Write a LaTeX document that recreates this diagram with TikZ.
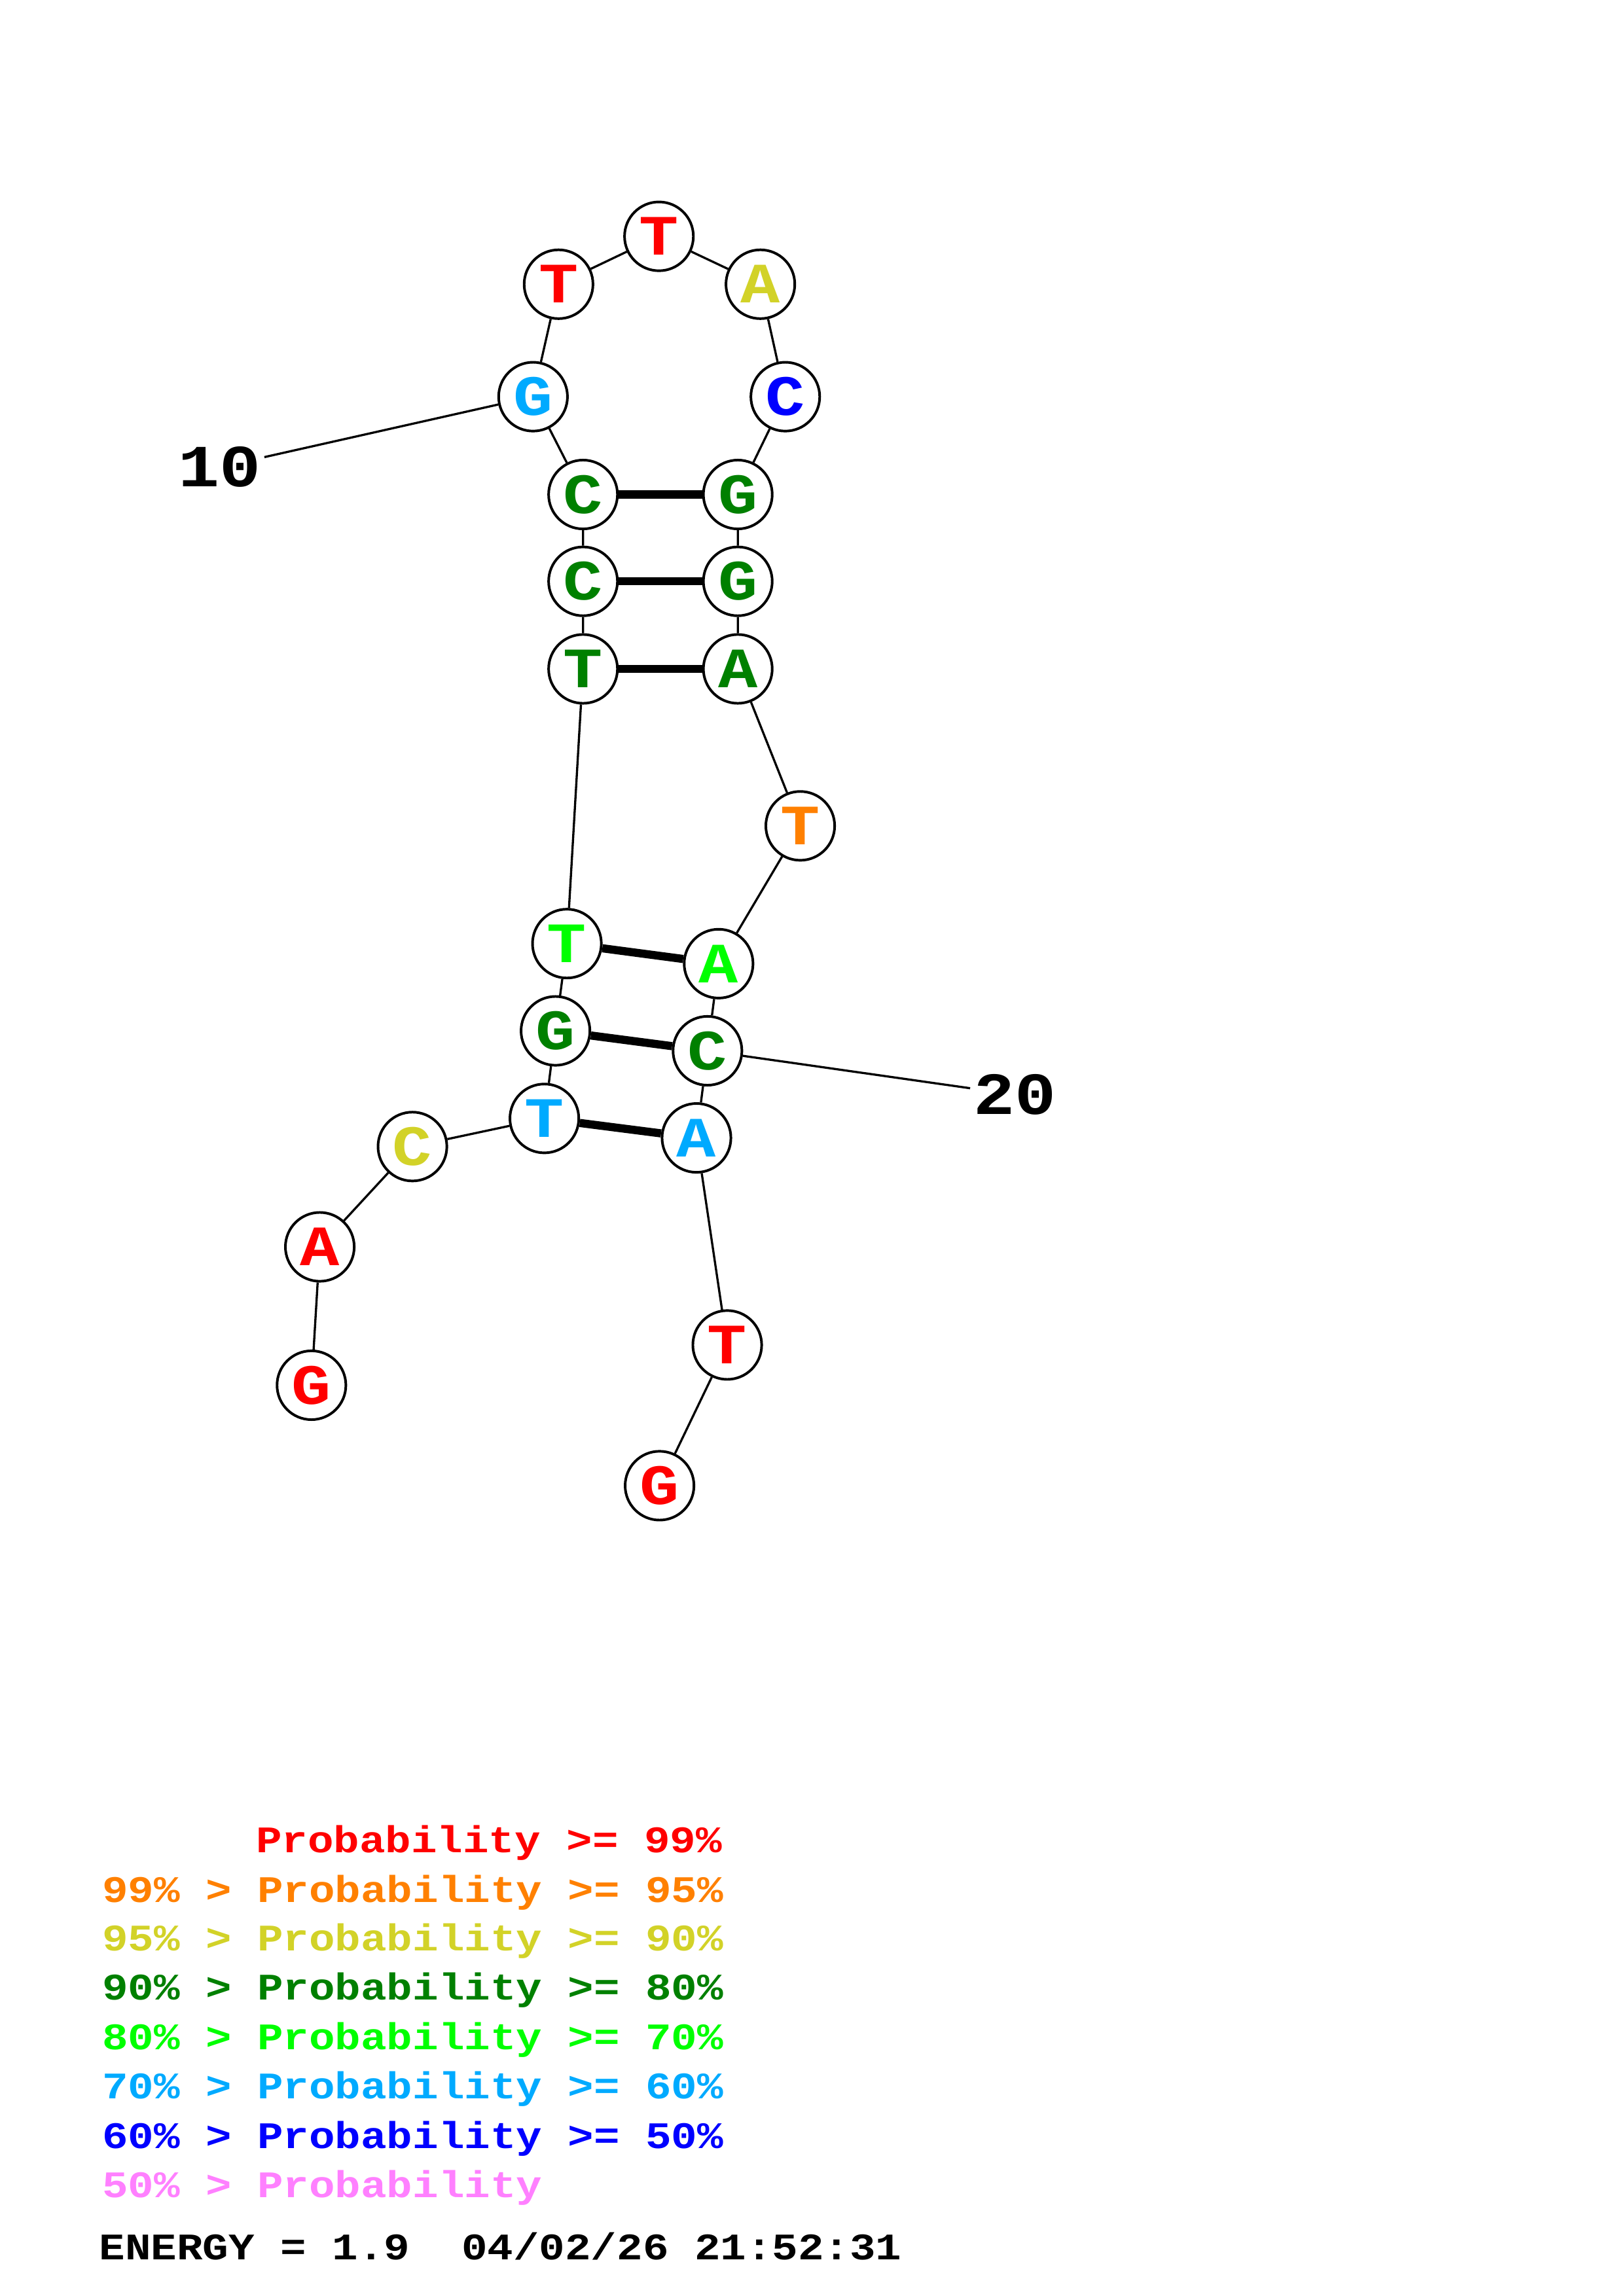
\documentclass[tikz,border=0pt]{standalone}
\usepackage{fontspec}
\newfontfamily\seqfont{Liberation Mono}[FakeStretch=1.15]

% 概率颜色
\definecolor{pr99}{RGB}{255,0,0}
\definecolor{pr95}{RGB}{255,128,0}
\definecolor{pr90}{RGB}{210,210,40}
\definecolor{pr80}{RGB}{0,128,0}
\definecolor{pr70}{RGB}{0,255,0}
\definecolor{pr60}{RGB}{0,170,255}
\definecolor{pr50}{RGB}{0,0,255}
\definecolor{pr00}{RGB}{255,128,255}

\tikzset{
  nuc/.style={circle, draw, fill=white, line width=0.95pt, minimum size=0.89cm, inner sep=0pt,
    font=\seqfont\bfseries\fontsize{21}{21}\selectfont},
  numlab/.style={inner sep=1pt, font=\seqfont\bfseries\fontsize{22}{22}\selectfont},
  legend/.style={anchor=base west, inner sep=0pt, font=\seqfont\bfseries\fontsize{13.8}{13.8}\selectfont},
  chain/.style={line width=0.8pt},
  pairline/.style={line width=3pt}
}

\begin{document}
\begin{tikzpicture}[x=0.018953cm, y=-0.018941cm]
\useasboundingbox (0,0) rectangle (1108,1568);

% 碱基
\node[nuc, text=pr99] (n1) at (212.5,946) {G};
\node[nuc, text=pr99] (n2) at (218.2,851.5) {A};
\node[nuc, text=pr90] (n3) at (281.4,783) {C};
\node[nuc, text=pr60] (n4) at (371.4,763.8) {T};
\node[nuc, text=pr80] (n5) at (379,704) {G};
\node[nuc, text=pr70] (n6) at (386.8,644.4) {T};
\node[nuc, text=pr80] (n7) at (397.8,456.8) {T};
\node[nuc, text=pr80] (n8) at (397.8,397) {C};
\node[nuc, text=pr80] (n9) at (397.8,337.7) {C};
\node[nuc, text=pr60] (n10) at (363.7,270.9) {G};
\node[nuc, text=pr99] (n11) at (381.1,194.1) {T};
\node[nuc, text=pr99] (n12) at (449.6,161.4) {T};
\node[nuc, text=pr90] (n13) at (518.8,194.1) {A};
\node[nuc, text=pr50] (n14) at (535.8,270.9) {C};
\node[nuc, text=pr80] (n15) at (503.4,337.7) {G};
\node[nuc, text=pr80] (n16) at (503.4,397) {G};
\node[nuc, text=pr80] (n17) at (503.4,456.8) {A};
\node[nuc, text=pr95] (n18) at (546,564) {T};
\node[nuc, text=pr70] (n19) at (490.3,658.1) {A};
\node[nuc, text=pr80] (n20) at (482.7,717.6) {C};
\node[nuc, text=pr60] (n21) at (475.2,777.1) {A};
\node[nuc, text=pr99] (n22) at (496.2,918.5) {T};
\node[nuc, text=pr99] (n23) at (450,1014.6) {G};

% 编号
\node[numlab] (l10) at (150,319) {10};
\node[numlab] (l20) at (692.3,747.5) {20};

% 主链
\draw[chain] (n1) -- (n2) -- (n3) -- (n4) -- (n5) -- (n6) -- (n7) -- (n8) -- (n9) -- (n10)
  -- (n11) -- (n12) -- (n13) -- (n14) -- (n15) -- (n16) -- (n17) -- (n18) -- (n19) -- (n20)
  -- (n21) -- (n22) -- (n23);
\draw[chain] (n10) -- (l10);
\draw[chain] (n20) -- (l20);

% 配对
\draw[pairline] (n4) -- (n21);
\draw[pairline] (n5) -- (n20);
\draw[pairline] (n6) -- (n19);
\draw[pairline] (n7) -- (n17);
\draw[pairline] (n8) -- (n16);
\draw[pairline] (n9) -- (n15);

% 图例
\node[legend, text=pr99] (lg1) at (174.3,1265.3) {Probability >= 99\%};
\node[legend, text=pr95] (lg2) at (69.3,1299) {99\% > Probability >= 95\%};
\node[legend, text=pr90] (lg3) at (69.3,1332.3) {95\% > Probability >= 90\%};
\node[legend, text=pr80] (lg4) at (69.3,1365.8) {90\% > Probability >= 80\%};
\node[legend, text=pr70] (lg5) at (69.3,1399.6) {80\% > Probability >= 70\%};
\node[legend, text=pr60] (lg6) at (69.3,1433.2) {70\% > Probability >= 60\%};
\node[legend, text=pr50] (lg7) at (69.3,1467) {60\% > Probability >= 50\%};
\node[legend, text=pr00] (lg8) at (69.3,1500.5) {50\% > Probability};
\node[legend] (energy) at (67.4,1543.3) {ENERGY = 1.9\ \ 04/02/26 21:52:31};
\end{tikzpicture}
\end{document}
